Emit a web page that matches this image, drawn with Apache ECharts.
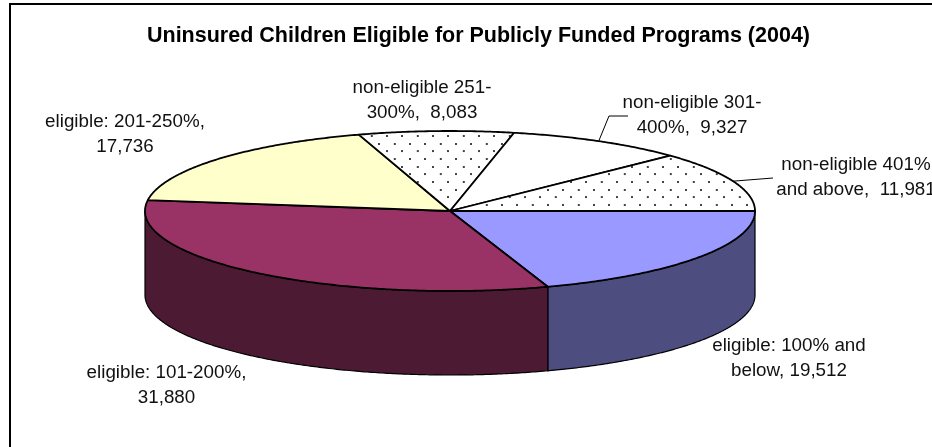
<!DOCTYPE html>
<html>
<head>
<meta charset="utf-8">
<style>html,body{margin:0;padding:0;background:#fff}#chart{width:932px;height:447px}</style>
<script src="https://cdn.jsdelivr.net/npm/echarts@6/dist/echarts.min.js"></script>
</head>
<body>
<div id="chart"></div>
<script>
// Uninsured children by income band, 2004
const titleText = 'Uninsured Children Eligible for Publicly Funded Programs (2004)';
const categories = ['eligible: 100% and below', 'eligible: 101-200%', 'eligible: 201-250%',
  'non-eligible 251-300%', 'non-eligible 301-400%', 'non-eligible 401% and above'];
const values = [19512, 31880, 17736, 8083, 9327, 11981];
const labelLines = [
  'eligible: 100% and\nbelow, 19,512',
  'eligible: 101-200%,\n31,880',
  'eligible: 201-250%,\n17,736',
  'non-eligible 251-\n300%,  8,083',
  'non-eligible 301-\n400%,  9,327',
  'non-eligible 401%\nand above,  11,981'
];
const topColors = ['#9999FF', '#993366', '#FFFFCC', 'dots', '#FFFFFF', 'dots'];
const wallColors = ['#4D4D80', '#4D1A33', '#808066', '#808080', '#808080', '#808080'];

// Projection of the disc
const CX = 450, CY = 211, RX = 305, RY = 80, DEPTH = 84;
// Label centres and leader bends
const labelPos = [[789, 358], [166.5, 385.5], [125, 134], [422, 100.5], [692, 115], [856, 177]];
const leaderBends = { 4: [[609, 116], [628, 116]], 5: [[773, 178]] };

const total = values.reduce((a, b) => a + b, 0);
const deg = d => d * Math.PI / 180;
const rim = (a, drop) => [CX + RX * Math.cos(deg(a)), CY + RY * Math.sin(deg(a)) + (drop || 0)];
const arc = (from, to, drop) => {
  const pts = [];
  for (let a = from; a < to; a += 0.5) pts.push(rim(a, drop));
  pts.push(rim(to, drop));
  return pts;
};

// Small staggered dot tile, scaled down so its pitch falls between whole pixels
function dotPattern() {
  const c = document.createElement('canvas');
  c.width = c.height = 46;
  const g = c.getContext('2d');
  g.fillStyle = '#fff';
  g.fillRect(0, 0, 46, 46);
  g.fillStyle = '#444';
  [[8, 3], [31, 26]].forEach(p => g.fillRect(p[0], p[1], 6, 6));
  return { image: c, repeat: 'repeat', scaleX: 1 / 3, scaleY: 1 / 3, x: 7.6, y: 3.67 };
}
const dots = dotPattern();

function renderSlice(params, api) {
  const i = params.dataIndex;
  let start = 0;
  for (let k = 0; k < i; k++) start += values[k];
  start = start / total * 360;
  const end = start + api.value(0) / total * 360;
  const children = [];

  // Outer wall: only the part of the rim that faces the viewer
  if (start < 180) {
    const e = Math.min(end, 180);
    children.push({
      type: 'polygon',
      shape: { points: arc(start, e, 0).concat(arc(start, e, DEPTH).reverse()) },
      style: { fill: wallColors[i], stroke: '#000', lineWidth: 1.2 }
    });
  }
  // Top face
  children.push({
    type: 'polygon',
    shape: { points: [[CX, CY]].concat(arc(start, end, 0)) },
    style: { fill: topColors[i] === 'dots' ? dots : topColors[i], stroke: '#000', lineWidth: 1.8, lineJoin: 'round' }
  });
  // Leader from the middle of the rim
  if (leaderBends[i]) {
    children.push({
      type: 'polyline',
      shape: { points: [rim((start + end) / 2)].concat(leaderBends[i]) },
      style: { fill: 'none', stroke: '#000', lineWidth: 1 }
    });
  }
  // Data label
  children.push({
    type: 'text',
    style: {
      text: labelLines[i], x: labelPos[i][0], y: labelPos[i][1],
      align: 'center', verticalAlign: 'middle', lineHeight: 25,
      font: '18.8px "Liberation Sans", Arial, sans-serif', fill: '#111'
    }
  });
  return { type: 'group', children };
}

const chart = echarts.init(document.getElementById('chart'), null, { renderer: 'canvas' });
chart.setOption({
  animation: false,
  backgroundColor: '#fff',
  title: {
    text: titleText, left: 473.5, top: 19, textAlign: 'center',
    textStyle: { fontFamily: '"Liberation Sans", Arial, sans-serif', fontWeight: 'bold', fontSize: 21.5, color: '#000', lineHeight: 24 }
  },
  graphic: [
    { type: 'polyline', shape: { points: [[10, 447], [10, 4], [932, 4]] }, style: { fill: 'none', stroke: '#000', lineWidth: 2 } }
  ],
  series: [{
    type: 'custom',
    coordinateSystem: 'none',
    silent: true,
    data: values.map((v, i) => ({ name: categories[i], value: [v] })),
    renderItem: renderSlice
  }]
});
</script>
</body>
</html>
